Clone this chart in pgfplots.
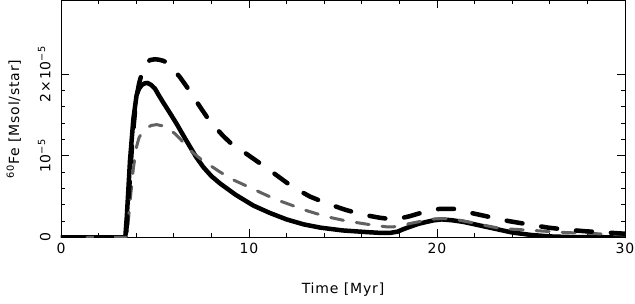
\documentclass[border=0pt]{standalone}
\usepackage{pgfplots}
\pgfplotsset{compat=1.18}
\usepackage{fontspec}
\setmainfont{DejaVu Sans}[LetterSpace=6]
\begin{document}
\begin{tikzpicture}
\begin{axis}[
  at={(0,0)}, anchor=south west,
  width=564pt, height=237pt, scale only axis,
  xmin=0, xmax=30, ymin=0, ymax=2.9,
  xtick={0,10,20,30}, minor x tick num=4,
  ytick={0,1,2}, minor y tick num=4,
  yticklabels={0,{10\textsuperscript{−5}},{2×10\textsuperscript{−5}}},
  tick align=inside,
  major tick length=8pt, minor tick length=4pt,
  /pgf/number format/assume math mode=true,
  tick label style={font=\fontsize{14}{16}\selectfont},
  yticklabel style={rotate=90, anchor=south},
  yticklabel shift=7pt,
  xticklabel shift=2pt,
  label style={font=\fontsize{14}{16}\selectfont},
  xlabel={Time [Myr]},
  ylabel={\textsuperscript{60}Fe [Msol/star]},
  xlabel style={at={(axis description cs:0.5,0)}, yshift=-42pt},
  ylabel style={yshift=10pt},
  axis line style={line width=0.8pt},
  every tick/.style={line width=0.8pt, black},
]
\addplot[black, line width=4.5pt, line join=round] coordinates {
(0,0) (3.42,0) (3.5,0.25) (3.67,0.94) (3.85,1.45) (4.02,1.74) (4.15,1.82) (4.3,1.865) (4.45,1.885) (4.6,1.89) (4.8,1.865) (5.0,1.82) (5.2,1.74) (5.44,1.65) (5.8,1.52) (6.15,1.39) (6.5,1.25) (6.86,1.11) (7.2,0.98) (7.57,0.86) (8.0,0.75) (8.46,0.66) (9.3,0.52) (10.23,0.39) (11.1,0.3) (12.0,0.22) (12.9,0.16) (13.78,0.12) (15,0.085) (16.26,0.065) (17.0,0.055) (17.5,0.055) (17.9,0.07) (18.2,0.1) (18.56,0.13) (19.0,0.165) (19.45,0.19) (19.85,0.21) (20.25,0.22) (20.8,0.21) (21.4,0.19) (22.2,0.15) (23.0,0.11) (24,0.06) (25,0.03) (26,0.012) (27,0.005) (30,0)
};
\addplot[black!62, line width=3pt, line cap=round, line join=round, dash pattern=on 13pt off 13pt] coordinates {
(0,0) (3.5,0) (3.7,0.5) (3.85,0.85) (4.02,1.11) (4.15,1.22) (4.3,1.28) (4.56,1.34) (4.8,1.37) (5.09,1.38) (5.5,1.36) (6.06,1.27) (6.4,1.19) (6.68,1.11) (7.05,1.03) (7.48,0.95) (8.46,0.80) (9.2,0.70) (9.96,0.62) (10.7,0.54) (11.47,0.46) (12.2,0.40) (12.89,0.34) (13.6,0.29) (14.4,0.24) (15.1,0.205) (15.9,0.175) (16.6,0.15) (17.3,0.13) (17.7,0.13) (18.0,0.14) (18.56,0.17) (19.0,0.19) (19.4,0.21) (19.85,0.225) (20.3,0.23) (20.8,0.225) (21.2,0.21) (22.1,0.17) (22.7,0.14) (23.35,0.11) (25.1,0.085) (26.8,0.06) (28.5,0.045) (30,0.03)
};
\addplot[black, line width=4.5pt, line cap=round, line join=round, dash pattern=on 16pt off 19pt] coordinates {
(0,0) (3.45,0) (3.6,0.5) (3.8,1.2) (4.0,1.7) (4.15,1.88) (4.29,2.0) (4.5,2.12) (4.73,2.17) (5.0,2.18) (5.2,2.175) (5.45,2.16) (5.7,2.13) (6.0,2.05) (6.33,1.96) (6.7,1.84) (7.04,1.72) (7.39,1.60) (7.8,1.46) (8.28,1.33) (8.63,1.24) (9.0,1.16) (9.43,1.09) (9.88,1.02) (10.5,0.92) (11.0,0.84) (11.47,0.76) (12.3,0.62) (13.24,0.50) (14.2,0.41) (15.1,0.34) (16.0,0.28) (16.97,0.24) (17.5,0.225) (18.0,0.23) (18.56,0.26) (19.0,0.29) (19.45,0.32) (19.8,0.34) (20.2,0.35) (20.87,0.35) (21.3,0.33) (21.8,0.30) (22.8,0.25) (23.8,0.20) (24.85,0.16) (25.9,0.12) (26.9,0.094) (27.9,0.075) (28.85,0.062) (30,0.045)
};
\end{axis}
\pgfresetboundingbox
\path[use as bounding box] (-61pt,-66pt) rectangle (574pt,237.4pt);
\end{tikzpicture}
\end{document}
